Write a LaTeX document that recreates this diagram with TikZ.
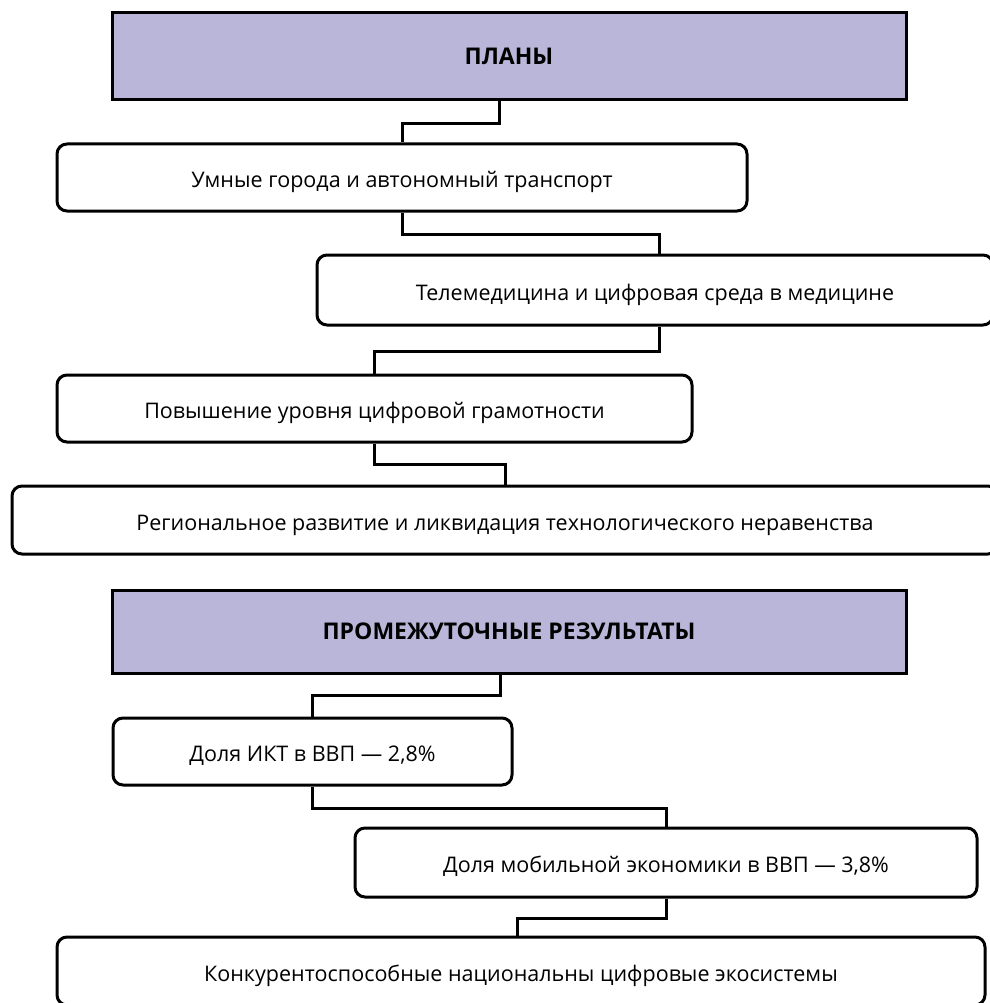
\documentclass[tikz,border=0pt]{standalone}
\usepackage{fontspec}
\setmainfont{Open Sans}
\definecolor{hdr}{RGB}{186,182,217}
\begin{document}
\begin{tikzpicture}[x=1pt,y=-1pt,
  box/.style={draw=black,line width=3pt,rounded corners=10pt,fill=white,inner sep=0pt,
    text height=20pt,text depth=0pt,font=\fontsize{21.5}{25}\selectfont},
  hdrbox/.style={draw=black,line width=3pt,fill=hdr,inner sep=0pt,
    text height=16pt,text depth=0pt,font=\fontsize{23}{27}\selectfont\bfseries},
  conn/.style={draw=black,line width=3pt}]
\useasboundingbox (0,0) rectangle (989,1003);
\node[hdrbox,minimum width=794pt,minimum height=87pt] (b1) at (509,56.5) {ПЛАНЫ\hspace{20pt}};
\node[box,minimum width=690pt,minimum height=67pt] (b2) at (402,177.5) {Умные города и автономный транспорт};
\node[box,minimum width=676pt,minimum height=70pt] (b3) at (655,290) {Телемедицина и цифровая среда в медицине};
\node[box,minimum width=635pt,minimum height=67pt] (b4) at (374.5,408.5) {Повышение уровня цифровой грамотности};
\node[box,minimum width=986pt,minimum height=68pt] (b5) at (505,520) {Региональное развитие и ликвидация технологического неравенства};
\node[hdrbox,minimum width=794pt,minimum height=83pt] (b6) at (509,631.5) {ПРОМЕЖУТОЧНЫЕ РЕЗУЛЬТАТЫ};
\node[box,minimum width=399pt,minimum height=67pt] (b7) at (312.5,751.5) {Доля ИКТ в ВВП — 2,8\%};
\node[box,minimum width=622pt,minimum height=69pt] (b8) at (666,862.5) {Доля мобильной экономики в ВВП — 3,8\%};
\node[box,minimum width=928pt,minimum height=68pt] (b9) at (521,971) {Конкурентоспособные национальны цифровые экосистемы};
\draw[conn] ([xshift=-10pt]b1.south) -- ++(0,22) -| (b2.north);
\draw[conn] (b2.south) -- ++(0,22) -| ([xshift=4pt]b3.north);
\draw[conn] ([xshift=4pt]b3.south) -- ++(0,25) -| (b4.north);
\draw[conn] (b4.south) -- ++(0,21) -| (b5.north);
\draw[conn] ([xshift=-9pt]b6.south) -- ++(0,21) -| (b7.north);
\draw[conn] (b7.south) -- ++(0,22) -| (b8.north);
\draw[conn] (b8.south) -- ++(0,20) -| ([xshift=-4pt]b9.north);
\end{tikzpicture}
\end{document}
